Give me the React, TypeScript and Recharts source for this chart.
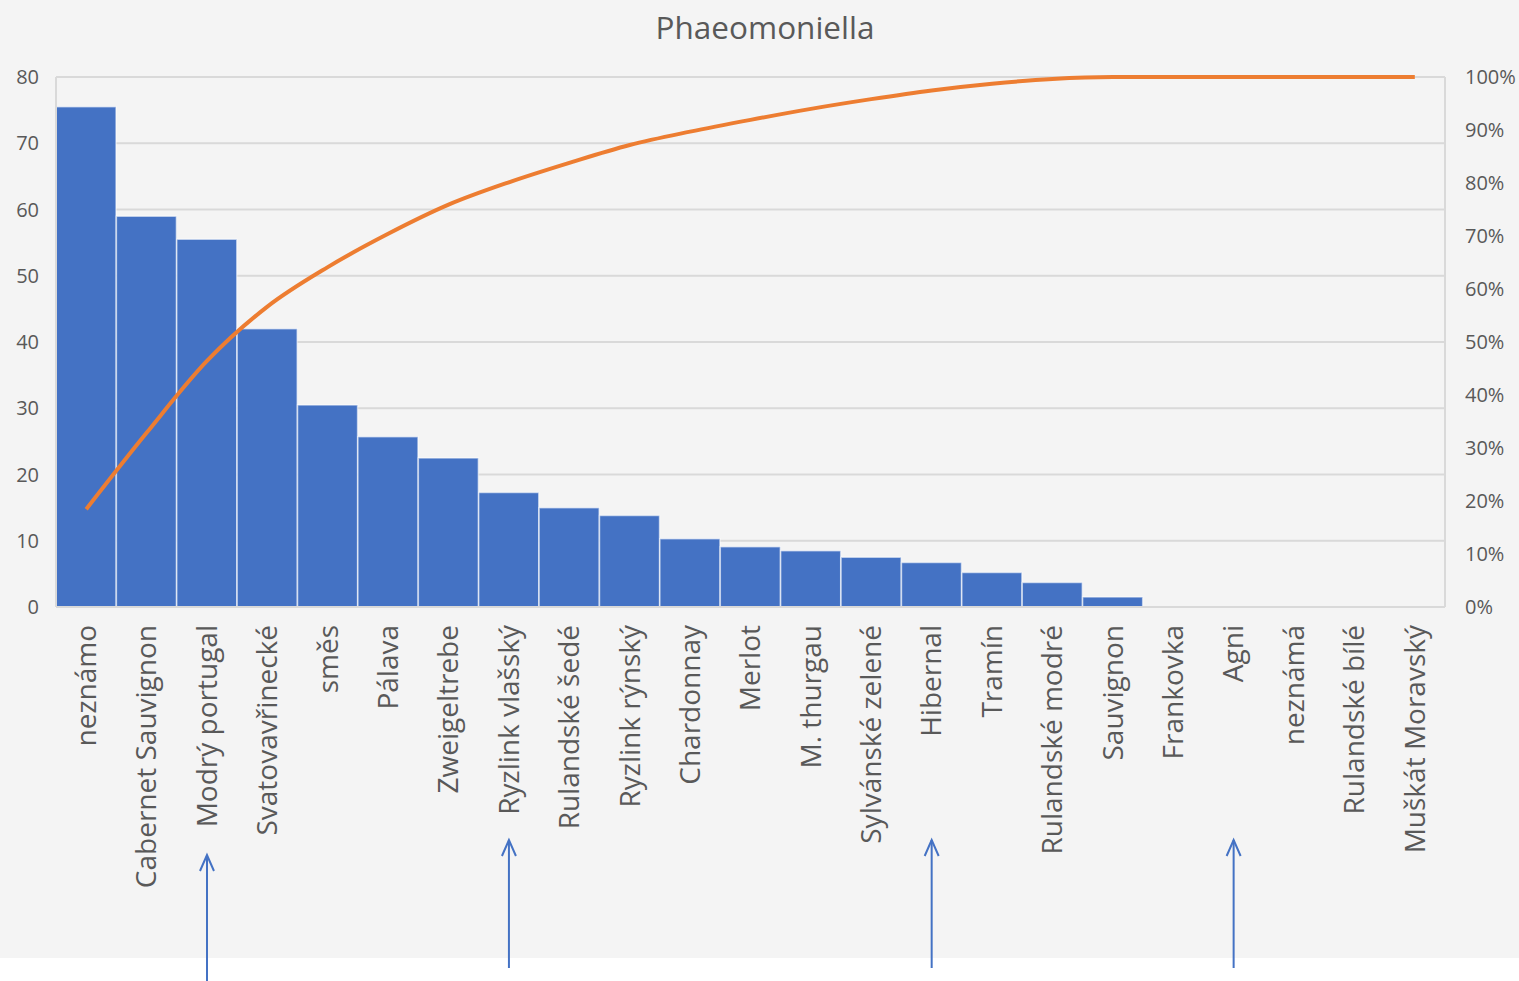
import React from "react";
import {
  ComposedChart,
  Bar,
  Line,
  XAxis,
  YAxis,
  CartesianGrid,
} from "recharts";

// cultivars, sorted by number of Phaeomoniella findings
const categories = [
  "neznámo",
  "Cabernet Sauvignon",
  "Modrý portugal",
  "Svatovavřinecké",
  "směs",
  "Pálava",
  "Zweigeltrebe",
  "Ryzlink vlašský",
  "Rulandské šedé",
  "Ryzlink rýnský",
  "Chardonnay",
  "Merlot",
  "M. thurgau",
  "Sylvánské zelené",
  "Hibernal",
  "Tramín",
  "Rulandské modré",
  "Sauvignon",
  "Frankovka",
  "Agni",
  "neznámá",
  "Rulandské bílé",
  "Muškát Moravský",
];

const counts = [
  75.5, 59, 55.5, 42, 30.5, 25.7, 22.5, 17.3, 15, 13.8, 10.3, 9.1, 8.5, 7.5,
  6.7, 5.2, 3.7, 1.5, 0, 0, 0, 0, 0,
];

const countTicks = [0, 10, 20, 30, 40, 50, 60, 70, 80];
const percentTicks = [0, 10, 20, 30, 40, 50, 60, 70, 80, 90, 100];

// cultivars pointed at with arrows under the axis
const marked = ["Modrý portugal", "Ryzlink vlašský", "Hibernal", "Agni"];

const total = counts.reduce((s, v) => s + v, 0);
let running = 0;
const data = categories.map((name, i) => {
  running += counts[i];
  return { name, count: counts[i], cumulative: (running / total) * 100 };
});

const TEXT = "#595959";
const GRID = "#d9d9d9";
const FONT = "'Open Sans', sans-serif";

const CategoryTick = (props: any) => {
  const { x, y, payload } = props;
  const label: string = payload.value;
  const hasArrow = marked.includes(label);
  const long = label === "Modrý portugal";
  const tip = y + (long ? 230 : 215);
  const end = y + (long ? 360 : 343);
  return (
    <g>
      <text
        x={x}
        y={y}
        dy="0.35em"
        transform={`rotate(-90, ${x}, ${y})`}
        textAnchor="end"
        fill={TEXT}
        fontSize={28}
        fontFamily={FONT}
      >
        {label}
      </text>
      {hasArrow && (
        <g stroke="#4472C4" strokeWidth={2} fill="none">
          <line x1={x} y1={tip} x2={x} y2={end} />
          <polyline
            points={`${x - 7},${tip + 16} ${x},${tip} ${x + 7},${tip + 16}`}
          />
        </g>
      )}
    </g>
  );
};

export default function App() {
  return (
    <div
      style={{
        position: "absolute",
        left: 0,
        top: 0,
        width: 1519,
        height: 981,
        background: "#ffffff",
        fontFamily: FONT,
      }}
    >
      <div
        style={{
          position: "absolute",
          left: 0,
          top: 0,
          width: 1519,
          height: 958,
          background: "#f4f4f4",
        }}
      />
      <div
        style={{
          position: "absolute",
          left: 765,
          top: 11,
          transform: "translateX(-50%)",
          fontSize: 31.5,
          lineHeight: "31px",
          color: TEXT,
          whiteSpace: "nowrap",
        }}
      >
        Phaeomoniella
      </div>
      <div style={{ position: "absolute", left: 0, top: 0 }}>
        <ComposedChart
          width={1519}
          height={981}
          data={data}
          margin={{ top: 77, right: 0, bottom: 0, left: 0 }}
          barCategoryGap={0}
          barGap={0}
        >
          <CartesianGrid
            yAxisId="left"
            vertical={false}
            stroke={GRID}
            strokeWidth={2}
          />
          <XAxis
            dataKey="name"
            height={374}
            interval={0}
            tickSize={0}
            tickMargin={18}
            tickLine={false}
            axisLine={{ stroke: GRID, strokeWidth: 2 }}
            tick={<CategoryTick />}
          />
          <YAxis
            yAxisId="left"
            width={56}
            domain={[0, 80]}
            ticks={countTicks}
            tickSize={0}
            tickMargin={17}
            tickLine={false}
            axisLine={{ stroke: GRID, strokeWidth: 2 }}
            tick={{ fill: TEXT, fontSize: 20, fontFamily: FONT }}
          />
          <YAxis
            yAxisId="right"
            orientation="right"
            width={74}
            domain={[0, 100]}
            ticks={percentTicks}
            tickFormatter={(v: number) => `${v}%`}
            tickSize={0}
            tickMargin={20}
            tickLine={false}
            axisLine={{ stroke: GRID, strokeWidth: 2 }}
            tick={{ fill: TEXT, fontSize: 20, fontFamily: FONT }}
          />
          <Bar
            yAxisId="left"
            dataKey="count"
            fill="#4472C4"
            stroke="#ffffff"
            strokeOpacity={0.55}
            strokeWidth={1.5}
            isAnimationActive={false}
          />
          <Line
            yAxisId="right"
            type="monotone"
            dataKey="cumulative"
            stroke="#ED7D31"
            strokeWidth={4}
            dot={false}
            activeDot={false}
            isAnimationActive={false}
          />
        </ComposedChart>
      </div>
    </div>
  );
}
